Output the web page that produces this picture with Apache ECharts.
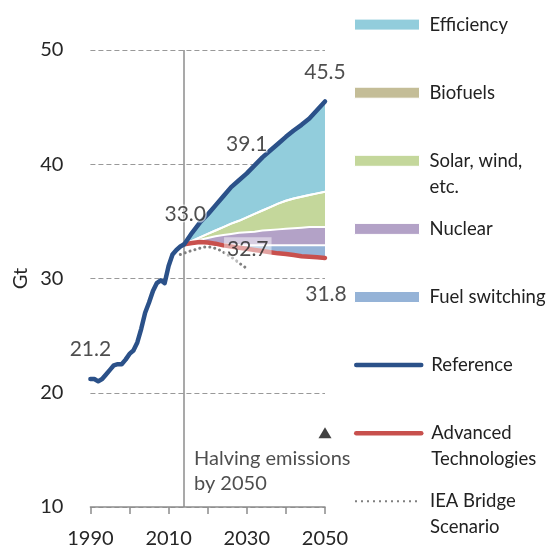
<!DOCTYPE html>
<html>
<head>
<meta charset="utf-8">
<script src="https://cdn.jsdelivr.net/npm/echarts@6/dist/echarts.min.js"></script>
<style>
html, body { margin: 0; padding: 0; background: #fff; }
#main { width: 548px; height: 552px; }
</style>
</head>
<body>
<div id="main"></div>
<script>
// historical emissions (Reference), yearly
let histYears = [1990, 1991, 1992, 1993, 1994, 1995, 1996, 1997, 1998, 1999, 2000, 2001,
    2002, 2003, 2004, 2005, 2006, 2007, 2008, 2009, 2010, 2011, 2012, 2013];
let histValues = [21.2, 21.2, 21.0, 21.2, 21.6, 22.0, 22.4, 22.5, 22.5, 22.9, 23.4, 23.7,
    24.4, 25.6, 27.0, 27.9, 28.9, 29.6, 29.85, 29.6, 31.1, 32.1, 32.5, 32.8];

// projections, every two years
let projYears = [2014, 2016, 2018, 2020, 2022, 2024, 2026, 2028, 2030, 2032,
    2034, 2036, 2038, 2040, 2042, 2044, 2046, 2048, 2050];
let referenceProj = [33.0, 34.0, 34.9, 35.6, 36.4, 37.2, 38.0, 38.6, 39.2, 39.9,
    40.6, 41.2, 41.8, 42.4, 42.95, 43.45, 44.0, 44.75, 45.5];
let advancedTech = [33.0, 33.1, 33.2, 33.15, 33.05, 32.9, 32.8, 32.7, 32.6, 32.5,
    32.4, 32.3, 32.2, 32.15, 32.05, 31.95, 31.9, 31.85, 31.8];
// upper edge of each wedge
let fuelSwitchingTop = [33.0, 33.1, 33.2, 33.2, 33.1, 33.0, 32.95, 32.9, 32.9, 32.9,
    32.9, 32.9, 32.9, 32.9, 32.9, 32.9, 32.9, 32.9, 32.9];
let nuclearTop = [33.0, 33.2, 33.4, 33.55, 33.7, 33.8, 33.9, 34.0, 34.05, 34.1,
    34.2, 34.25, 34.3, 34.35, 34.4, 34.45, 34.5, 34.5, 34.5];
let solarTop = [33.0, 33.3, 33.6, 33.9, 34.2, 34.5, 34.8, 35.05, 35.35, 35.65,
    35.95, 36.25, 36.55, 36.8, 37.0, 37.15, 37.3, 37.45, 37.6];
let biofuelsWidth = [0, 0, 0, 0, 0, 0, 0, 0, 0, 0, 0, 0, 0, 0, 0, 0, 0, 0, 0];

// IEA Bridge Scenario
let bridgeYears = [2013, 2015, 2017, 2019, 2021, 2023, 2025, 2027, 2029, 2030];
let bridgeValues = [32.1, 32.35, 32.55, 32.75, 32.75, 32.5, 32.1, 31.65, 31.1, 30.9];

// value call-outs
let calloutYears = [1990, 2014, 2030, 2050, 2030, 2050];
let calloutValues = [21.2, 33.0, 39.1, 45.5, 32.7, 31.8];
let calloutTexts = ['21.2', '33.0', '39.1', '45.5', '32.7', '31.8'];

let targetYear = 2050;
let targetValue = 16.5;
let targetText = 'Halving emissions\nby 2050';
let policyYear = 2014;

// year categories along the x axis, ticks every 10, labels every 20
let yearCategories = [];
for (let y = 1990; y <= 2050; y++) yearCategories.push(String(y));

let legendNames = ['Efficiency', 'Biofuels', 'Solar, wind,\netc.', 'Nuclear',
    'Fuel switching', 'Reference', 'Advanced\nTechnologies', 'IEA Bridge\nScenario'];

let colors = {
    efficiency: '#92CDDC',
    biofuels: '#C4BD97',
    solar: '#C4D79B',
    nuclear: '#B3A2C7',
    fuel: '#95B3D7',
    reference: '#2B5189',
    advanced: '#C8504D',
    bridge: '#808080'
};

let font = 'Lato, "Open Sans", sans-serif';

function pairs(xs, ys) {
    return xs.map((x, i) => [String(x), ys[i]]);
}
function diff(a, b) {
    return a.map((v, i) => +(v - b[i]).toFixed(3));
}

let biofuelsTop = solarTop.map((v, i) => v + biofuelsWidth[i]);

let myChart = echarts.init(document.getElementById('main'));

function band(name, values, color) {
    return {
        name: name,
        type: 'line',
        stack: 'wedges',
        data: pairs(projYears, values),
        symbol: 'none',
        lineStyle: { color: '#fff', width: 2 },
        itemStyle: { color: color },
        areaStyle: { color: color, opacity: 1 },
        z: 2,
        silent: true
    };
}

// legend, one block per entry so the spacing matches
let areaLegend = { 'Efficiency': colors.efficiency, 'Biofuels': colors.biofuels,
    'Solar, wind,\netc.': colors.solar, 'Nuclear': colors.nuclear, 'Fuel switching': colors.fuel };
let lineLegend = {
    'Reference': { color: colors.reference, width: 4.5, type: 'solid', cap: 'round' },
    'Advanced\nTechnologies': { color: colors.advanced, width: 4.5, type: 'solid', cap: 'round' },
    'IEA Bridge\nScenario': { color: colors.bridge, width: 2, type: [2, 4], cap: 'butt' }
};
let legends = legendNames.map((name, i) => {
    let center = 24.6 + i * 68.1;
    let twoLine = name.indexOf('\n') >= 0;
    let item = { name: name };
    if (areaLegend[name]) {
        item.icon = 'rect';
        item.itemStyle = { color: areaLegend[name], borderColor: '#fff', borderWidth: 1 };
    } else {
        item.itemStyle = { opacity: 0 };
        item.lineStyle = lineLegend[name];
    }
    return {
        left: 354,
        top: center - (twoLine ? 39 : 13),
        orient: 'vertical',
        padding: 0,
        itemWidth: 65,
        itemHeight: 11,
        selectedMode: false,
        data: [item],
        formatter: n => (n.indexOf('\n') >= 0 ? '\n' + n : n),
        textStyle: {
            fontFamily: font,
            fontSize: 18.5,
            color: '#222',
            lineHeight: 26,
            padding: [0, 0, 0, 5]
        }
    };
});

let calloutOffsets = [[0, -30], [1, -30], [0, -30], [0, -29], [1, 2], [1, 36]];

let option = {
    backgroundColor: '#fff',
    animation: false,
    grid: { left: 90.4, right: 223, top: 50, bottom: 45 },
    legend: legends,
    xAxis: {
        type: 'category',
        data: yearCategories,
        boundaryGap: false,
        axisLine: { show: true, lineStyle: { color: '#8c8c8c', width: 1.5 } },
        axisTick: {
            show: true, length: 7, interval: i => i % 10 === 0,
            lineStyle: { color: '#8c8c8c', width: 1.5 }
        },
        splitLine: { show: false },
        axisLabel: {
            margin: 22,
            interval: i => i % 20 === 0,
            fontFamily: font,
            fontSize: 20,
            color: '#262626'
        }
    },
    yAxis: {
        type: 'value',
        min: 10,
        max: 50,
        interval: 10,
        name: 'Gt',
        nameLocation: 'middle',
        nameRotate: 90,
        nameGap: 60,
        nameTextStyle: { fontFamily: font, fontSize: 20, color: '#262626' },
        axisLine: { show: false },
        axisTick: { show: false },
        splitLine: { lineStyle: { color: '#999', type: [5, 3], width: 1.2 } },
        axisLabel: { margin: 27, fontFamily: font, fontSize: 20, color: '#262626', padding: [4, 0, 0, 0] }
    },
    series: [
        {
            name: 'base',
            type: 'line',
            stack: 'wedges',
            data: pairs(projYears, advancedTech),
            symbol: 'none',
            lineStyle: { opacity: 0 },
            silent: true
        },
        band('Fuel switching', diff(fuelSwitchingTop, advancedTech), colors.fuel),
        band('Nuclear', diff(nuclearTop, fuelSwitchingTop), colors.nuclear),
        band('Solar, wind,\netc.', diff(solarTop, nuclearTop), colors.solar),
        band('Biofuels', diff(biofuelsTop, solarTop), colors.biofuels),
        band('Efficiency', diff(referenceProj, biofuelsTop), colors.efficiency),
        {
            name: 'IEA Bridge\nScenario',
            type: 'line',
            data: pairs(bridgeYears, bridgeValues),
            symbol: 'none',
            lineStyle: { color: colors.bridge, width: 3, type: [0.1, 5], cap: 'round' },
            itemStyle: { color: colors.bridge },
            z: 3
        },
        {
            name: 'Advanced\nTechnologies',
            type: 'line',
            data: pairs(projYears, advancedTech),
            symbol: 'none',
            lineStyle: { color: colors.advanced, width: 4.5, cap: 'round', join: 'round' },
            itemStyle: { color: colors.advanced },
            z: 4
        },
        {
            name: 'Reference',
            type: 'line',
            data: pairs(histYears, histValues).concat(pairs(projYears, referenceProj)),
            symbol: 'none',
            lineStyle: { color: colors.reference, width: 4.5, cap: 'round', join: 'round' },
            itemStyle: { color: colors.reference },
            z: 5,
            markLine: {
                silent: true,
                symbol: 'none',
                label: { show: false },
                lineStyle: { color: '#8c8c8c', width: 1.5, type: 'solid' },
                data: [{ xAxis: String(policyYear) }],
                z: 1
            }
        },
        {
            name: 'target',
            type: 'scatter',
            data: [[String(targetYear), targetValue]],
            symbol: 'triangle',
            symbolSize: [13, 11],
            itemStyle: { color: '#111' },
            z: 6,
            label: {
                show: true,
                position: 'inside',
                formatter: targetText,
                align: 'left',
                verticalAlign: 'middle',
                offset: [-131, 38],
                fontFamily: font,
                fontSize: 20,
                lineHeight: 25,
                color: '#222'
            }
        },
        {
            name: 'callouts',
            type: 'scatter',
            symbolSize: 1,
            itemStyle: { color: 'transparent' },
            z: 7,
            data: calloutYears.map((y, i) => ({
                value: [String(y), calloutValues[i]],
                label: {
                    show: true,
                    position: 'inside',
                    formatter: calloutTexts[i],
                    offset: calloutOffsets[i],
                    fontFamily: font,
                    fontSize: 21,
                    color: '#222',
                    textBorderColor: i === 1 || i === 2 ? 'rgba(255,255,255,0.7)' : 'transparent',
                    textBorderWidth: i === 1 || i === 2 ? 3 : 0,
                    backgroundColor: i === 4 ? 'rgba(255,255,255,0.6)' : 'transparent',
                    padding: i === 4 ? [2, 3] : 0
                }
            }))
        }
    ]
};

myChart.setOption(option);
</script>
</body>
</html>
